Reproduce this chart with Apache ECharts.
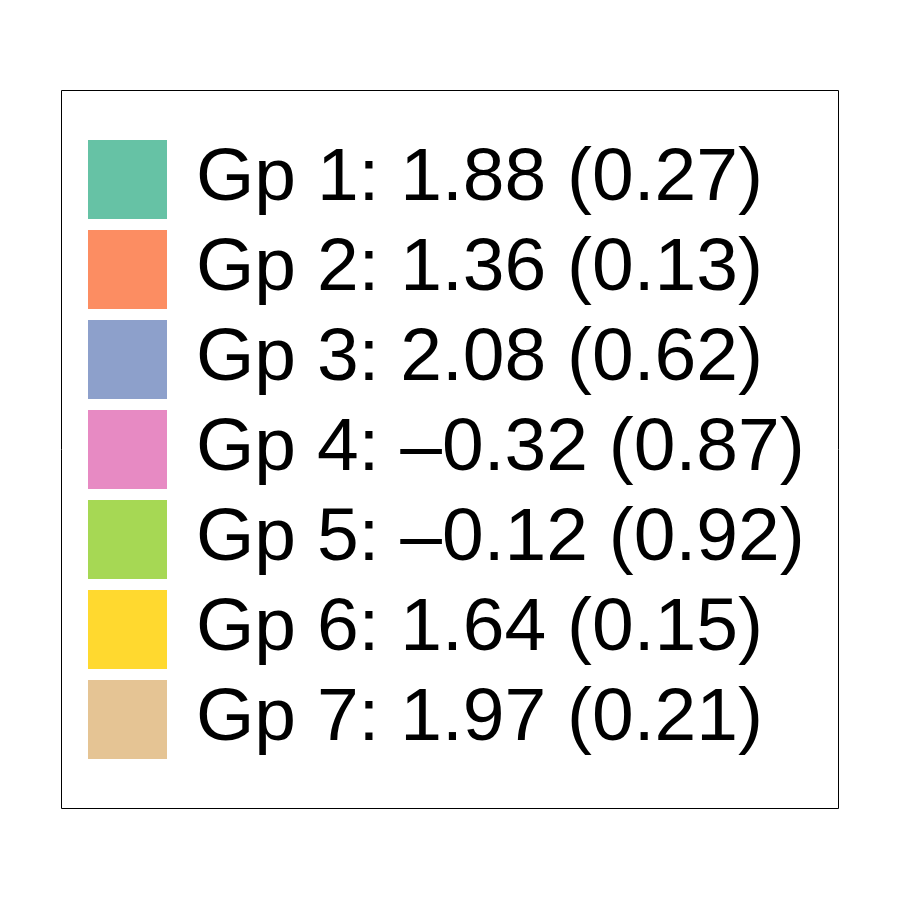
<!DOCTYPE html>
<html>
<head>
<meta charset="utf-8">
<script src="https://cdn.jsdelivr.net/npm/echarts@6/dist/echarts.min.js"></script>
<style>html,body{margin:0;padding:0;background:#fff;}#c{width:900px;height:900px;}</style>
</head>
<body>
<div id="c"></div>
<script>
const groups = ["Gp 1", "Gp 2", "Gp 3", "Gp 4", "Gp 5", "Gp 6", "Gp 7"];
const means = [1.88, 1.36, 2.08, -0.32, -0.12, 1.64, 1.97];
const ses = [0.27, 0.13, 0.62, 0.87, 0.92, 0.15, 0.21];
const colors = ["#66C2A5", "#FC8D62", "#8DA0CB", "#E78AC3", "#A6D854", "#FFD92F", "#E5C494"];

function fmt(v) {
  const s = Math.abs(v).toFixed(2);
  return (v < 0 ? "\u2013" : "") + s;
}
const labels = groups.map((g, i) => g + ": " + fmt(means[i]) + " (" + ses[i].toFixed(2) + ")");

const chart = echarts.init(document.getElementById('c'), null, {renderer: 'canvas'});
chart.setOption({
  backgroundColor: '#ffffff',
  animation: false,
  color: colors,
  graphic: [{
    type: 'rect',
    shape: {x: 61.5, y: 90.5, width: 777, height: 718},
    style: {fill: 'none', stroke: '#000', lineWidth: 1}
  }],
  legend: {
    orient: 'vertical',
    left: 88,
    top: 140,
    padding: 0,
    itemWidth: 79,
    itemHeight: 79,
    itemGap: 11,
    icon: 'rect',
    selectedMode: false,
    data: labels,
    textStyle: {
      fontFamily: 'Liberation Sans, Arial, sans-serif',
      fontSize: 75,
      color: '#000',
      padding: [0, 0, 0, 24]
    }
  },
  series: [{
    type: 'pie',
    radius: [0, 0],
    center: [-100, -100],
    silent: true,
    label: {show: false},
    labelLine: {show: false},
    data: labels.map((l, i) => ({name: l, value: 1, itemStyle: {color: colors[i]}}))
  }]
});
</script>
</body>
</html>
